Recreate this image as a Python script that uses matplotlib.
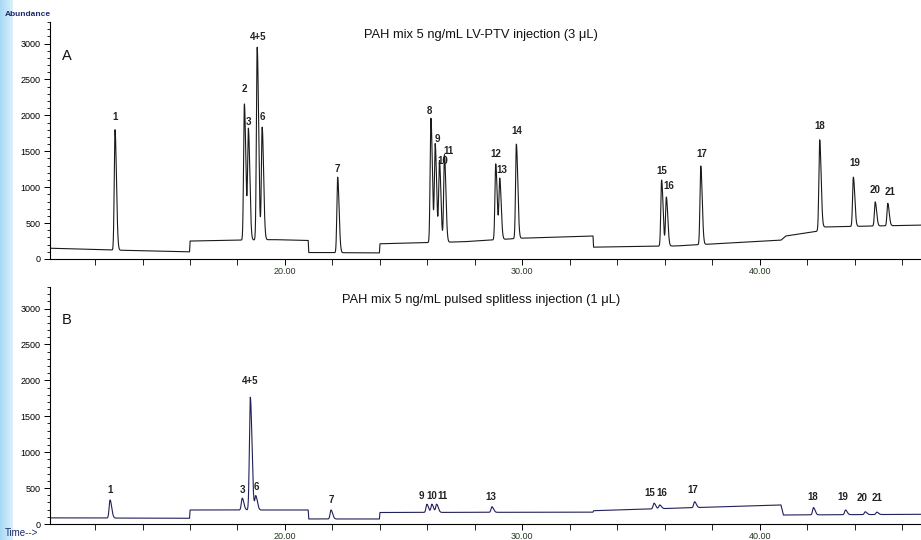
#!/usr/bin/env python3
"""
PAH 色谱图复现：LV-PTV 进样 (A) 与脉冲不分流进样 (B)
"""

import numpy as np
import matplotlib
matplotlib.use('Agg')
import matplotlib.pyplot as plt
from matplotlib.ticker import MultipleLocator, FixedLocator

plt.rcParams['font.family'] = ['Liberation Sans', 'DejaVu Sans']

# ---- 数据 ----
# A: LV-PTV injection (3 uL)
peaks_a = ['1', '2', '3', '4+5', '6', '7', '8', '9', '10', '11', '12', '13', '14',
           '15', '16', '17', '18', '19', '20', '21']
rt_a = [12.84, 18.29, 18.46, 18.83, 19.04, 22.22, 26.15, 26.33, 26.51, 26.72,
        28.88, 29.05, 29.75, 35.87, 36.07, 37.52, 42.53, 43.95, 44.87, 45.40]
apex_a = [1800, 2160, 1790, 2950, 1830, 1140, 1960, 1590, 1360, 1450,
          1325, 1110, 1600, 1100, 860, 1295, 1660, 1140, 795, 775]
base_t_a = [10.1, 12.7, 15.98, 16.0, 18.0, 19.5, 20.98, 21.0, 23.98, 24.0, 26.0, 27.5,
            30.0, 32.98, 33.0, 36.5, 40.9, 41.1, 42.4, 42.6, 46.8]
base_y_a = [150, 125, 100, 250, 262, 270, 258, 90, 85, 212, 228, 240,
            290, 320, 165, 182, 262, 320, 385, 445, 472]

# B: pulsed splitless injection (1 uL)
peaks_b = ['1', '3', '4+5', '6', '7', '9', '10', '11', '13', '15', '16', '17',
           '18', '19', '20', '21']
rt_b = [12.63, 18.20, 18.54, 18.77, 21.94, 25.98, 26.19, 26.39, 28.72, 35.55,
        35.79, 37.26, 42.27, 43.62, 44.45, 44.94]
apex_b = [335, 360, 1765, 390, 195, 275, 275, 275, 240, 290, 265, 310,
          228, 195, 170, 165]
base_t_b = [10.1, 15.98, 16.0, 20.98, 21.0, 23.98, 24.0, 32.98, 33.0, 40.9, 41.0, 46.8]
base_y_b = [85, 80, 195, 195, 70, 70, 160, 165, 185, 265, 125, 135]

title_a = 'PAH mix 5 ng/mL LV-PTV injection (3 \u03bcL)'
title_b = 'PAH mix 5 ng/mL pulsed splitless injection (1 \u03bcL)'

XMIN, XMAX = 10.1, 46.8
YMAX = 3300

# 标签位置：相对峰顶的偏移（像素，dx 向右, dy 为文字中心高于峰顶）
label_off_a = {'1': (0, 13), '2': (0, 15), '3': (0, 8), '4+5': (1, 10), '6': (0, 11),
               '7': (0, 8), '8': (-1, 7), '9': (2, 6), '10': (3, 0), '11': (4, 4),
               '12': (0, 10), '13': (2, 9), '14': (0, 13), '15': (0, 9), '16': (2, 11),
               '17': (1, 12), '18': (0, 14), '19': (1, 14), '20': (0, 12), '21': (2, 11)}
label_off_b = {'1': (0, 10), '3': (0, 8), '4+5': (0, 16), '6': (1, 9), '7': (0, 10),
               '9': (-6, 8), '10': (0, 8), '11': (6, 8), '13': (-1, 10), '15': (-4, 10),
               '16': (2, 12), '17': (-2, 12), '18': (-1, 11), '19': (-3, 13),
               '20': (-3, 14), '21': (0, 14)}


def build_trace(t, rt, apex, base_t, base_y, sigma=0.033):
    """基线 + 不对称高斯峰"""
    base = np.interp(t, base_t, base_y)
    y = base.copy()
    for r, h in zip(rt, apex):
        amp = h - np.interp(r, base_t, base_y)
        s = np.where(t < r, sigma, sigma * 1.8)
        y += amp * np.exp(-0.5 * ((t - r) / s) ** 2)
    return y


def style_axis(ax):
    ax.set_xlim(XMIN, XMAX)
    ax.set_ylim(0, YMAX)
    for side in ['top', 'right']:
        ax.spines[side].set_visible(False)
    ax.spines['left'].set_linewidth(0.8)
    ax.spines['bottom'].set_linewidth(0.8)
    ax.yaxis.set_major_locator(FixedLocator([0, 500, 1000, 1500, 2000, 2500, 3000]))
    ax.yaxis.set_minor_locator(MultipleLocator(100))
    ax.xaxis.set_major_locator(FixedLocator([20, 30, 40]))
    ax.xaxis.set_minor_locator(FixedLocator([12, 14, 16, 18, 22, 24, 26, 28, 32, 34, 36, 38,
                                             42, 44, 46]))
    ax.set_xticklabels(['20.00', '30.00', '40.00'])
    ax.tick_params(axis='y', which='major', length=4, width=0.7, labelsize=6.5, pad=3)
    ax.tick_params(axis='y', which='minor', length=2.5, width=0.6)
    ax.tick_params(axis='x', which='major', length=4, width=0.7, labelsize=6.5, pad=2,
                   labelcolor='#24381f')
    ax.tick_params(axis='x', which='minor', length=4, width=0.6)


def add_labels(ax, names, rt, apex, offsets):
    for name, r, h in zip(names, rt, apex):
        dx, dy = offsets.get(name, (0, 12))
        ax.annotate(name, xy=(r, h), xytext=(dx * 0.72, dy * 0.72),
                    textcoords='offset points', ha='center', va='center',
                    fontsize=7, fontweight='bold', color='#222222')


def main():
    fig = plt.figure(figsize=(9.21, 5.40), dpi=100)
    fig.patch.set_facecolor('white')

    # 左侧浅蓝色条
    ax_strip = fig.add_axes([0, 0, 12 / 921, 1])
    grad = np.linspace(0, 1, 50).reshape(1, -1)
    ax_strip.imshow(grad, aspect='auto', cmap=matplotlib.colors.LinearSegmentedColormap.from_list(
        'strip', ['#a6d9f4', '#dcf0fb']), extent=[0, 1, 0, 1])
    ax_strip.axis('off')

    t = np.arange(XMIN, XMAX, 0.004)

    ax_a = fig.add_axes([50 / 921, 1 - 259 / 540, 1 - 50 / 921, 237 / 540])
    ax_b = fig.add_axes([50 / 921, 1 - 524 / 540, 1 - 50 / 921, 237 / 540])

    y_a = build_trace(t, rt_a, apex_a, base_t_a, base_y_a)
    y_b = build_trace(t, rt_b, apex_b, base_t_b, base_y_b, sigma=0.038)

    ax_a.plot(t, y_a, color='#1a1a1a', linewidth=0.8)
    ax_b.plot(t, y_b, color='#20205a', linewidth=0.8)

    style_axis(ax_a)
    style_axis(ax_b)

    add_labels(ax_a, peaks_a, rt_a, apex_a, label_off_a)
    add_labels(ax_b, peaks_b, rt_b, apex_b, label_off_b)

    # 标题与面板字母
    fig.text(481 / 921, 1 - 35 / 540, title_a, ha='center', va='center', fontsize=9.3,
             color='#111111')
    fig.text(481 / 921, 1 - 300 / 540, title_b, ha='center', va='center', fontsize=9.3,
             color='#111111')
    fig.text(62 / 921, 1 - 56 / 540, 'A', ha='left', va='center', fontsize=10.5, color='#111111')
    fig.text(62 / 921, 1 - 320 / 540, 'B', ha='left', va='center', fontsize=10.5, color='#111111')

    fig.text(5 / 921, 1 - 14 / 540, 'Abundance', ha='left', va='center', fontsize=6,
             color='#1b2a6b', fontweight='bold')
    fig.text(5 / 921, 1 - 533 / 540, 'Time-->', ha='left', va='center', fontsize=7,
             color='#1b2a6b')

    plt.savefig('out.png', dpi=100, facecolor='white')
    plt.close()


if __name__ == '__main__':
    main()
